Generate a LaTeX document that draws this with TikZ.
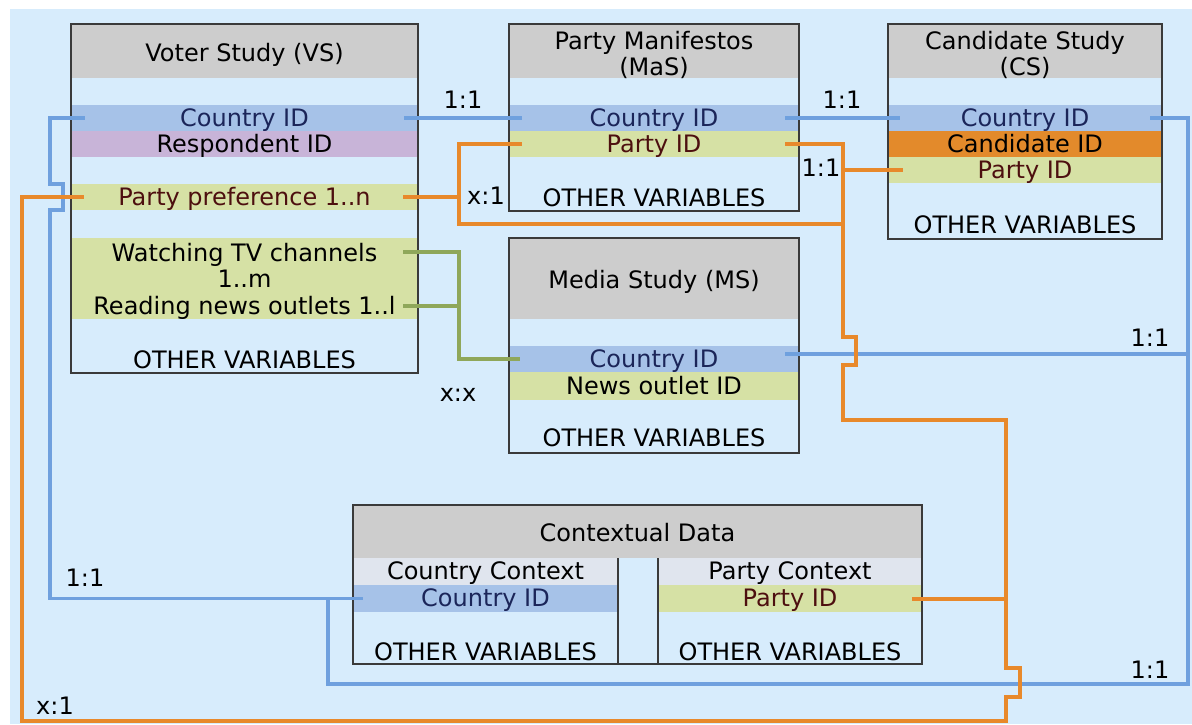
\documentclass[tikz,border=0pt]{standalone}
\usepackage{fontspec}
\setmainfont{DejaVu Sans}
\usetikzlibrary{calc}

\definecolor{bgblue}{HTML}{D7ECFC}
\definecolor{hdrgray}{HTML}{CDCDCD}
\definecolor{cidblue}{HTML}{A6C2E8}
\definecolor{respurple}{HTML}{C8B4D8}
\definecolor{pidgreen}{HTML}{D6E1A5}
\definecolor{candorange}{HTML}{E38A2B}
\definecolor{ctxgray}{HTML}{E0E5EE}
\definecolor{boxline}{HTML}{3A3A3A}
\definecolor{navytxt}{HTML}{1B2559}
\definecolor{maroontxt}{HTML}{4D0F0F}
\definecolor{linkblue}{HTML}{6FA0DE}
\definecolor{linkorange}{HTML}{E8892B}
\definecolor{linkgreen}{HTML}{8FA75A}

\begin{document}
\begin{tikzpicture}[x=0.5pt,y=-0.5pt,
  font=\fontsize{12}{13}\selectfont,
  tbl/.style={draw=boxline,line width=0.75pt,inner sep=0pt},
  hdr/.style={fill=hdrgray,inner sep=0pt},
  ttl/.style={inner sep=0pt,align=center},
  band/.style={inner sep=0pt,minimum height=13pt,text height=9.7pt,text depth=1.4pt},
  lbl/.style={inner sep=1pt},
  blueln/.style={draw=linkblue,line width=1.6pt},
  orangeln/.style={draw=linkorange,line width=2pt},
  greenln/.style={draw=linkgreen,line width=2pt}]

\useasboundingbox (0,0) rectangle (1192,724);
\fill[bgblue] (10,9) rectangle (1192,724);

% Voter Study
\node[hdr,minimum width=173.5pt,minimum height=27pt] (vsHead) at (244.5,51) {};
\node[band] (vsTitle) at (244.5,53.5) {Voter Study (VS)};
\node[band,fill=cidblue,text=navytxt,minimum width=173.5pt] (vsCountry) at (244.5,118) {Country ID};
\node[band,fill=respurple,minimum width=173.5pt] (vsResp) at (244.5,144) {Respondent ID};
\node[band,fill=pidgreen,text=maroontxt,minimum width=173.5pt] (vsPref) at (244.5,197) {Party preference 1..n};
\node[fill=pidgreen,inner sep=0pt,align=center,minimum width=173.5pt,minimum height=27.5pt] (vsTV) at (244.5,265.5) {Watching TV channels\\1..m};
\node[band,fill=pidgreen,minimum width=173.5pt] (vsNews) at (244.5,306) {Reading news outlets 1..l};
\node (vsOther) at (244.5,360) {OTHER VARIABLES};
\node[tbl,minimum width=173.5pt,minimum height=174.5pt] (vs) at (244.5,198.5) {};

% Party Manifestos
\node[hdr,minimum width=145pt,minimum height=27pt] (masHead) at (654,51) {};
\node[ttl] (masTitle) at (654,55) {Party Manifestos\\(MaS)};
\node[band,fill=cidblue,text=navytxt,minimum width=145pt] (masCountry) at (654,118) {Country ID};
\node[band,fill=pidgreen,text=maroontxt,minimum width=145pt] (masParty) at (654,144) {Party ID};
\node (masOther) at (654,198) {OTHER VARIABLES};
\node[tbl,minimum width=145pt,minimum height=93.5pt] (mas) at (654,117.5) {};

% Candidate Study
\node[hdr,minimum width=137pt,minimum height=27pt] (csHead) at (1025,51) {};
\node[ttl] (csTitle) at (1025,55) {Candidate Study\\(CS)};
\node[band,fill=cidblue,text=navytxt,minimum width=137pt] (csCountry) at (1025,118) {Country ID};
\node[band,fill=candorange,minimum width=137pt] (csCand) at (1025,144) {Candidate ID};
\node[band,fill=pidgreen,text=maroontxt,minimum width=137pt] (csParty) at (1025,170) {Party ID};
\node (csOther) at (1025,225) {OTHER VARIABLES};
\node[tbl,minimum width=137pt,minimum height=107.5pt] (cs) at (1025,131.5) {};

% Media Study
\node[hdr,minimum width=145pt,minimum height=40.5pt] (msHead) at (654,278.5) {};
\node[band] (msTitle) at (654,280.5) {Media Study (MS)};
\node[band,fill=cidblue,text=navytxt,minimum width=145pt] (msCountry) at (654,359) {Country ID};
\node[band,fill=pidgreen,minimum width=145pt,minimum height=14pt] (msOutlet) at (654,386) {News outlet ID};
\node (msOther) at (654,438) {OTHER VARIABLES};
\node[tbl,minimum width=145pt,minimum height=107.5pt] (ms) at (654,345.5) {};

% Contextual Data
\node[hdr,minimum width=284.5pt,minimum height=26.5pt] (ctxHead) at (637.5,531.5) {};
\node[band] (ctxTitle) at (637.5,533.5) {Contextual Data};
\node[band,fill=ctxgray,minimum width=132.5pt,minimum height=13.5pt] (ctxCountryLbl) at (485.5,571.5) {Country Context};
\node[band,fill=cidblue,text=navytxt,minimum width=132.5pt,minimum height=13.5pt] (ctxCountry) at (485.5,598.5) {Country ID};
\node (ctxOtherC) at (485.5,652) {OTHER VARIABLES};
\node[band,fill=ctxgray,minimum width=132pt,minimum height=13.5pt] (ctxPartyLbl) at (790,571.5) {Party Context};
\node[band,fill=pidgreen,text=maroontxt,minimum width=132pt,minimum height=13.5pt] (ctxParty) at (790,598.5) {Party ID};
\node (ctxOtherP) at (790,652) {OTHER VARIABLES};
\node[tbl,minimum width=284.5pt,minimum height=79.5pt] (ctx) at (637.5,584.5) {};
\draw[boxline,line width=0.75pt] (618,558) -- (618,664);
\draw[boxline,line width=0.75pt] (658,558) -- (658,664);

% lanes for the links
\coordinate (laneB) at (50,0);
\coordinate (laneO) at (22,0);
\coordinate (laneC) at (328,0);
\coordinate (laneM) at (459,0);
\coordinate (laneP) at (843,0);
\coordinate (laneQ) at (1006,0);
\coordinate (laneR) at (1188,0);
\coordinate (rowX) at (0,224);
\coordinate (rowMid) at (0,420);
\coordinate (rowBot) at (0,684);
\coordinate (rowO) at (0,721);

\draw[blueln] ([xshift=-7pt]vsCountry.east) -- ([xshift=6.5pt]masCountry.west);
\draw[blueln] ([xshift=-7pt]masCountry.east) -- ([xshift=6pt]csCountry.west);
\draw[blueln] ([xshift=-6pt]csCountry.east) -- (csCountry.east -| laneR) -- (laneR |- rowBot) -- (laneC |- rowBot) -- (laneC |- ctxCountry.west);
\draw[blueln] ([xshift=-7pt,yshift=2.5pt]msCountry.east) -- ($(msCountry.east -| laneR)+(0,-5)$);
\draw[blueln] ([xshift=7pt]vsCountry.west) -- (vsCountry.west -| laneB) -- ($(laneB |- vsPref.west)+(0,-13)$) -- ++(13,0) -- ++(0,26) -- ++(-13,0) -- (laneB |- ctxCountry.west) -- ([xshift=5pt]ctxCountry.west);

\draw[orangeln] ([xshift=-7.5pt]vsPref.east) -- (vsPref.east -| laneM);
\draw[orangeln] ([xshift=6.5pt]masParty.west) -- (masParty.west -| laneM) -- (laneM |- rowX) -- (laneP |- rowX);
\draw[orangeln] (csParty.west -| laneP) -- ([xshift=7.5pt]csParty.west);
\draw[orangeln] ([xshift=-5pt]ctxParty.east) -- (ctxParty.east -| laneQ);
\draw[orangeln] ([xshift=-7pt]masParty.east) -- (masParty.east -| laneP) -- ($(laneP |- msCountry.east)+(0,-22)$) -- ++(13,0) -- ++(0,28) -- ++(-13,0) -- (laneP |- rowMid) -- (laneQ |- rowMid) -- ($(laneQ |- rowBot)+(0,-16)$) -- ++(14,0) -- ++(0,29) -- ++(-14,0) -- (laneQ |- rowO) -- (laneO |- rowO) -- (laneO |- vsPref.west) -- ([xshift=6.5pt]vsPref.west);

\draw[greenln] ([xshift=-7.5pt,yshift=6.75pt]vsTV.east) -| (laneM |- msCountry.west) -- ([xshift=5.5pt]msCountry.west);
\draw[greenln] ([xshift=-7.5pt]vsNews.east) -- (vsNews.east -| laneM);

\node[lbl] (r1) at (463,100) {1:1};
\node[lbl] (r2) at (842,100) {1:1};
\node[lbl] (r3) at (486,196) {x:1};
\node[lbl] (r4) at (821,168) {1:1};
\node[lbl] (r5) at (458,395) {x:x};
\node[lbl] (r6) at (1150,338) {1:1};
\node[lbl] (r7) at (85,578) {1:1};
\node[lbl] (r8) at (1150,670) {1:1};
\node[lbl] (r9) at (55,706) {x:1};
\end{tikzpicture}
\end{document}
